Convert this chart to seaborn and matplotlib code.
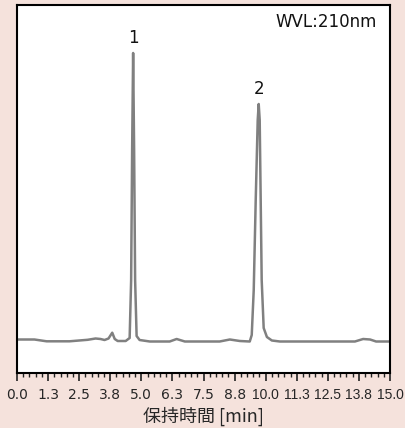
import numpy as np
import pandas as pd
import matplotlib
matplotlib.use("Agg")
import matplotlib.pyplot as plt
from matplotlib.ticker import MultipleLocator
import seaborn as sns

# chromatogram trace (time in min, signal in arbitrary units)
times = [0.00, 0.70, 1.19, 2.11, 2.84, 3.16, 3.36, 3.52, 3.68, 3.83, 3.93, 4.05,
         4.37, 4.53, 4.59, 4.63, 4.67, 4.71, 4.75, 4.81, 4.93, 5.34, 6.14, 6.42,
         6.75, 8.15, 8.56, 8.96, 9.36, 9.44, 9.52, 9.60, 9.68, 9.72, 9.76, 9.80,
         9.84, 9.92, 10.05, 10.25, 10.57, 13.59, 13.92, 14.20, 14.44, 15.00]
signal = [33.5, 33.5, 31.7, 31.7, 33.2, 34.5, 34.0, 33.0, 34.5, 40.3, 34.0, 32.0,
          32.0, 35.0, 93.0, 223.0, 320.0, 223.0, 93.0, 37.0, 33.0, 31.5, 31.5, 34.0,
          31.5, 31.5, 33.5, 32.0, 31.5, 38.0, 83.0, 173.0, 253.0, 269.0, 253.0, 173.0,
          93.0, 45.0, 36.0, 32.5, 31.5, 31.5, 34.0, 33.5, 31.5, 31.5]

peak_names = ["1", "2"]
peak_times = [4.67, 9.72]
peak_heights = [320.0, 269.0]

tick_vals = [0.0, 1.25, 2.5, 3.75, 5.0, 6.25, 7.5, 8.75, 10.0, 11.25, 12.5, 13.75, 15.0]
tick_labels = ["0.0", "1.3", "2.5", "3.8", "5.0", "6.3", "7.5", "8.8",
               "10.0", "11.3", "12.5", "13.8", "15.0"]

df = pd.DataFrame({"time": times, "signal": signal})

sns.set_style("white")
plt.rcParams['font.family'] = ['DejaVu Sans', 'Noto Sans CJK JP']

bg = '#f5e2dc'
fig = plt.figure(figsize=(4.05, 4.28), dpi=100, facecolor=bg)
ax = fig.add_axes([17/405, 55/428, 373/405, 368/428])
ax.set_facecolor('white')

sns.lineplot(data=df, x="time", y="signal", color='#808080', linewidth=1.8, ax=ax)

for name, t, h in zip(peak_names, peak_times, peak_heights):
    ax.text(t, h + 6, name, ha='center', va='bottom', fontsize=12, color='#111111')

ax.text(0.966, 0.955, "WVL:210nm", transform=ax.transAxes, ha='right', va='center',
        fontsize=12, color='#111111')

ax.set_xlim(0, 15)
ax.set_ylim(0, 368)
ax.set_yticks([])
ax.set_ylabel("")
ax.set_xticks(tick_vals)
ax.set_xticklabels(tick_labels)
ax.xaxis.set_minor_locator(MultipleLocator(0.25))
ax.tick_params(axis='x', which='major', bottom=True, length=6, width=1.2, pad=4.5,
               labelsize=10, color='#222222')
ax.tick_params(axis='x', which='minor', bottom=True, length=3, width=1.0, color='#222222')
for lbl in ax.get_xticklabels()[8:]:
    lbl.set_fontfamily('Liberation Sans')
    lbl.set_fontsize(10)
for sp in ax.spines.values():
    sp.set_visible(True)
    sp.set_color('black')
    sp.set_linewidth(1.5)

ax.set_xlabel("保持時間 [min]", fontsize=13, labelpad=4,
              family=['Noto Sans CJK JP', 'DejaVu Sans'])

fig.savefig("out.png", dpi=100, facecolor=bg)
